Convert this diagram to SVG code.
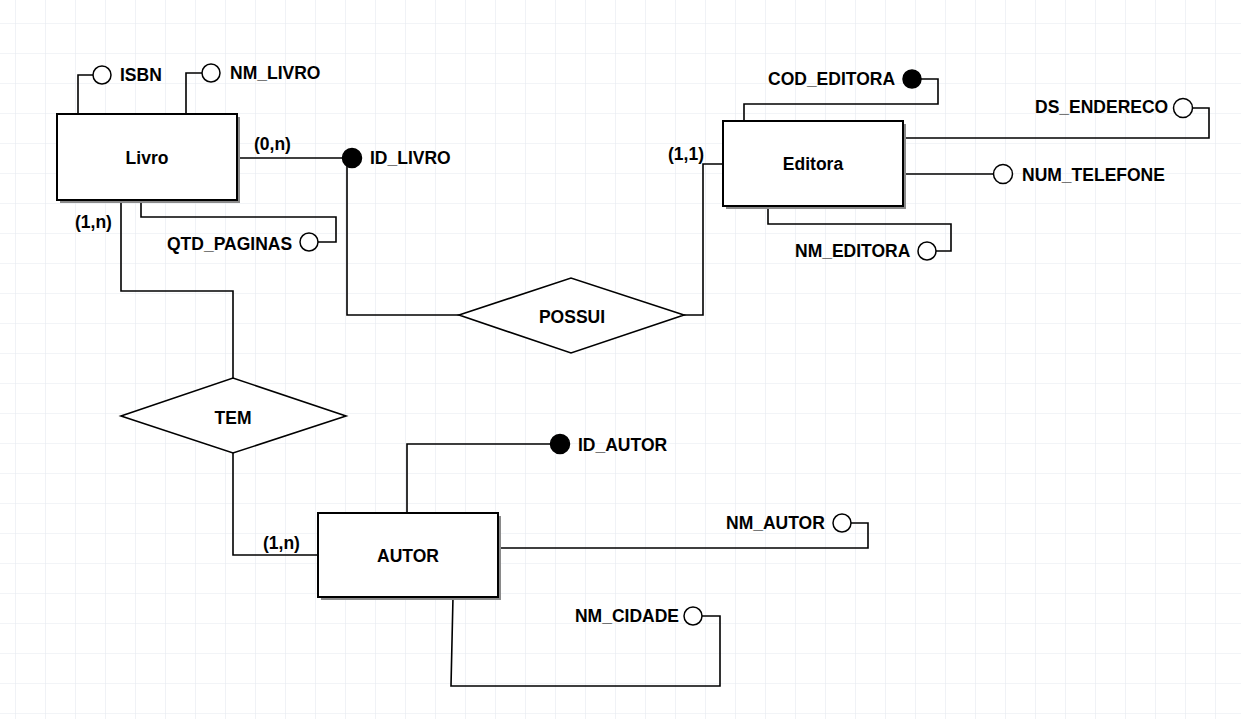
<svg xmlns="http://www.w3.org/2000/svg" width="1241" height="719" viewBox="0 0 1241 719">
<style>
.t{font-family:"Liberation Sans",Arial,sans-serif;font-weight:bold;font-size:17.5px;fill:#000}
.m{text-anchor:middle}
.e{text-anchor:end}
.ln{fill:none;stroke:#000;stroke-width:1.6}
.ent{fill:#fff;stroke:#000;stroke-width:2}
.sh{fill:#8a8a8a}
.rel{fill:#fff;stroke:#000;stroke-width:1.6}
.ao{fill:#fff;stroke:#000;stroke-width:1.5}
.ak{fill:#000;stroke:#000;stroke-width:1.5}
</style>
<defs>
<pattern id="grid" x="15" y="23" width="30" height="30" patternUnits="userSpaceOnUse">
<path d="M0 0H30M0 0V30" fill="none" stroke="#e6eaf0" stroke-width="1.2"/>
</pattern>
</defs>
<rect width="1241" height="719" fill="#fff"/>
<rect width="1241" height="719" fill="url(#grid)"/>

<g id="connectors">
<!-- Livro attributes -->
<path class="ln" d="M78 114V75H93"/>
<path class="ln" d="M186 114V73H202"/>
<path class="ln" d="M237 158H342"/>
<path class="ln" d="M141 200V217H336V242H318"/>
<!-- Livro - TEM -->
<path class="ln" d="M121 200V291H233V378"/>
<!-- ID_LIVRO - POSSUI -->
<path class="ln" d="M347 166V315H459"/>
<!-- POSSUI - Editora -->
<path class="ln" d="M684 315H703V164H723"/>
<!-- Editora attributes -->
<path class="ln" d="M744 121V104H938V79H921"/>
<path class="ln" d="M903 138H1209V108H1193"/>
<path class="ln" d="M903 174H994"/>
<path class="ln" d="M768 206V224H951V251H936"/>
<!-- TEM - AUTOR -->
<path class="ln" d="M233 453V555H318"/>
<!-- AUTOR attributes -->
<path class="ln" d="M407 513V444H551"/>
<path class="ln" d="M498 548H868V523H851"/>
<path class="ln" d="M453 597L451 686H720V616H702"/>
</g>

<g id="livro">
<rect class="sh" x="60" y="117" width="180" height="86"/>
<rect class="ent" x="57" y="114" width="180" height="86"/>
<text class="t m" x="147" y="164">Livro</text>
</g>
<g id="attr-isbn">
<circle class="ao" cx="102" cy="75" r="9"/>
<text class="t" x="120" y="81">ISBN</text>
</g>
<g id="attr-nm-livro">
<circle class="ao" cx="211" cy="73" r="9"/>
<text class="t" x="230" y="79">NM_LIVRO</text>
</g>
<g id="attr-id-livro">
<circle class="ak" cx="352" cy="158" r="9.5"/>
<text class="t" x="370" y="164">ID_LIVRO</text>
</g>
<g id="attr-qtd-paginas">
<circle class="ao" cx="309" cy="242" r="9"/>
<text class="t" x="167" y="250">QTD_PAGINAS</text>
</g>
<g id="card-livro-possui"><text class="t" x="254" y="150">(0,n)</text></g>
<g id="card-livro-tem"><text class="t" x="75" y="228">(1,n)</text></g>

<g id="editora">
<rect class="sh" x="726" y="124" width="180" height="85"/>
<rect class="ent" x="723" y="121" width="180" height="85"/>
<text class="t m" x="813" y="170">Editora</text>
</g>
<g id="attr-cod-editora">
<circle class="ak" cx="912" cy="79" r="9"/>
<text class="t" x="768" y="85">COD_EDITORA</text>
</g>
<g id="attr-ds-endereco">
<circle class="ao" cx="1183" cy="108" r="9.5"/>
<text class="t" x="1035" y="113">DS_ENDERECO</text>
</g>
<g id="attr-num-telefone">
<circle class="ao" cx="1003" cy="174" r="9.5"/>
<text class="t" x="1022" y="181">NUM_TELEFONE</text>
</g>
<g id="attr-nm-editora">
<circle class="ao" cx="927" cy="251" r="9"/>
<text class="t" x="795" y="257">NM_EDITORA</text>
</g>
<g id="card-editora"><text class="t" x="668" y="160">(1,1)</text></g>

<g id="possui">
<polygon class="rel" points="459,315 571,278 684,315 571,353"/>
<text class="t m" x="572" y="323">POSSUI</text>
</g>
<g id="tem">
<polygon class="rel" points="121,416 233,378 346,416 233,453"/>
<text class="t m" x="233" y="424">TEM</text>
</g>

<g id="autor">
<rect class="sh" x="321" y="516" width="180" height="84"/>
<rect class="ent" x="318" y="513" width="180" height="84"/>
<text class="t m" x="408" y="562">AUTOR</text>
</g>
<g id="attr-id-autor">
<circle class="ak" cx="560" cy="444" r="9.5"/>
<text class="t" x="578" y="451">ID_AUTOR</text>
</g>
<g id="attr-nm-autor">
<circle class="ao" cx="842" cy="523" r="9"/>
<text class="t" x="726" y="529">NM_AUTOR</text>
</g>
<g id="attr-nm-cidade">
<circle class="ao" cx="693" cy="616" r="9"/>
<text class="t e" x="679" y="622">NM_CIDADE</text>
</g>
<g id="card-autor"><text class="t" x="263" y="549">(1,n)</text></g>
</svg>
